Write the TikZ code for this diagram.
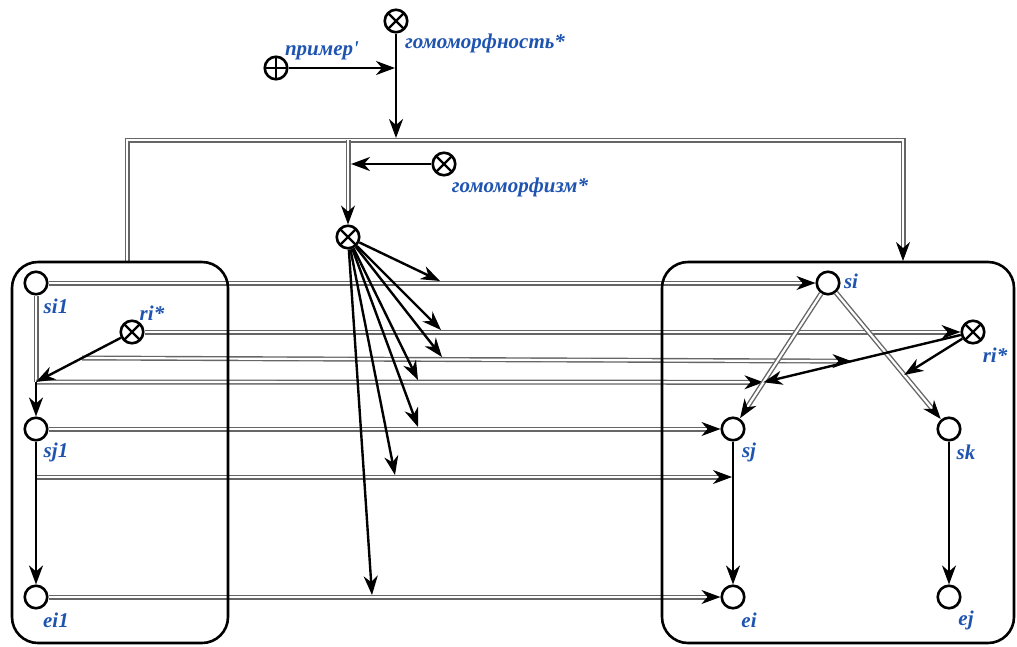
\documentclass[tikz,border=0pt]{standalone}
\usepackage{fontspec}
\usepackage{tikz}
\usetikzlibrary{arrows.meta,calc}
\newfontfamily\lblfont{Liberation Serif}
\definecolor{lblblue}{RGB}{30,84,176}

\begin{document}
\begin{tikzpicture}[x=1pt, y=-1pt,
        state/.style={circle, draw, line width=2.6pt, minimum size=22.5pt, inner sep=0pt, fill=white},
        rel/.style={state, path picture={\draw[line width=2.4pt] (path picture bounding box.north west) -- (path picture bounding box.south east) (path picture bounding box.north east) -- (path picture bounding box.south west);}},
        ins/.style={state, path picture={\draw[line width=2.4pt] (path picture bounding box.north) -- (path picture bounding box.south) (path picture bounding box.east) -- (path picture bounding box.west);}},
        lbl/.style={text=lblblue, font=\lblfont\bfseries\itshape\fontsize{21}{24}\selectfont, inner sep=0pt},
        dbl/.style={draw=black!60, double=white, double distance=2.2pt, line width=1.4pt},
        arr/.style={-{Stealth[length=19pt, width=14pt, inset=6pt]}, line width=2.4pt},
        dtip/.style={-{Stealth[length=19pt, width=14pt, inset=6pt]}, line width=1pt},
        box/.style={draw, line width=2.6pt, rounded corners=26pt}]
        \useasboundingbox (0,0) rectangle (1017,646);

        % Nodes
        \node[rel] (hn) at (396,21) {};
        \node[ins] (pr) at (276,68) {};
        \node[rel] (hz) at (444,164) {};
        \node[rel] (hm) at (348,237) {};
        \node[state] (si1) at (36,283) {};
        \node[rel] (riL) at (132,332) {};
        \node[state] (sj1) at (36,429) {};
        \node[state] (ei1) at (36,597) {};
        \node[state] (si) at (828,283) {};
        \node[rel] (riR) at (973,332) {};
        \node[state] (sj) at (733,429) {};
        \node[state] (sk) at (949,429) {};
        \node[state] (ei) at (733,597) {};
        \node[state] (ej) at (949,597) {};

        % Coordinates
        \coordinate (pj) at (395,68);
        \coordinate (bj) at (396,138);
        \coordinate (bL) at (127,262);
        \coordinate (bLt) at (127,140);
        \coordinate (bRt) at (903,140);
        \coordinate (bR) at (903,261);
        \coordinate (bM) at (348,140);
        \coordinate (hzj) at (351,164);
        \coordinate (Lq) at (36,382);
        \coordinate (La) at (36,477);
        \coordinate (Lr) at ($(riL)!0.52!(Lq)$);
        \coordinate (Rq) at ($(si)!0.68!(sj)$);
        \coordinate (Rk) at ($(si)!0.63!(sk)$);
        \coordinate (Rr) at ($(riR)!0.58!(Rq)$);
        \coordinate (Ra) at (732,477);
        \coordinate (tsj) at ($(sj)!13pt!(si)$);
        \coordinate (tsk) at ($(sk)!13pt!(si)$);
        \coordinate (f1) at (440,281);
        \coordinate (f2) at (441,330);
        \coordinate (f3) at (442,357);
        \coordinate (f4) at (418,380);
        \coordinate (f5) at (418,427);
        \coordinate (f6) at (395,475);
        \coordinate (f7) at (372,595);

        % Drawing
        \draw[dbl, shorten >=8pt] (bL) -- (bLt) -- (bRt) -- (bR);
        \draw[dtip] ($(bR)+(0,-12)$) -- (bR);
        \draw[dbl, shorten >=8pt] (bM) -- (hm.north);
        \draw[dtip] ($(hm.north)+(0,-12)$) -- (hm.north);
        \draw[dbl] (si1) -- (Lq);
        \draw[dbl, shorten >=8pt] (si1) -- (si);
        \draw[dtip] ($(si.west)+(-12,0)$) -- (si.west);
        \draw[dbl, shorten >=8pt] (riL) -- (riR);
        \draw[dtip] ($(riR.west)+(-12,0)$) -- (riR.west);
        \draw[dbl, shorten >=8pt] (Lr) -- (Rr);
        \draw[dtip] ($(Rr)!12pt!(Lr)$) -- (Rr);
        \draw[dbl, shorten >=8pt] (Lq) -- (Rq);
        \draw[dtip] ($(Rq)!12pt!(Lq)$) -- (Rq);
        \draw[dbl, shorten >=8pt] (sj1) -- (sj);
        \draw[dtip] ($(sj.west)+(-12,0)$) -- (sj.west);
        \draw[dbl, shorten >=8pt] (La) -- (Ra);
        \draw[dtip] ($(Ra)+(-12,0)$) -- (Ra);
        \draw[dbl, shorten >=8pt] (ei1) -- (ei);
        \draw[dtip] ($(ei.west)+(-12,0)$) -- (ei.west);
        \draw[dbl, shorten >=8pt] (si) -- (tsj);
        \draw[dtip] ($(tsj)!12pt!(si)$) -- (tsj);
        \draw[dbl, shorten >=8pt] (si) -- (tsk);
        \draw[dtip] ($(tsk)!12pt!(si)$) -- (tsk);

        \draw[arr] (hn) -- (bj);
        \draw[arr] (pr) -- (pj);
        \draw[arr] (hz) -- (hzj);
        \draw[arr] (riL) -- (Lq);
        \draw[arr] (Lq) -- (sj1);
        \draw[arr] (sj1) -- (ei1);
        \draw[arr] (riR) -- (Rq);
        \draw[arr] (riR) -- (Rk);
        \draw[arr] (sj) -- (ei);
        \draw[arr] (sk) -- (ej);
        \foreach \i in {1,...,7}
            \draw[arr] (hm) -- (f\i);

        \draw[box] (12,262) rectangle (228,643);
        \draw[box] (662,262) rectangle (1014,643);

        \node[lbl] (lhn) at (485,43) {гомоморфность*};
        \node[lbl] (lpr) at (322,51) {пример'};
        \node[lbl] (lhz) at (520,187) {гомоморфизм*};
        \node[lbl] (lsi1) at (56,306) {si1};
        \node[lbl] (lriL) at (152,313) {ri*};
        \node[lbl] (lsj1) at (56,452) {sj1};
        \node[lbl] (lei1) at (56,620) {ei1};
        \node[lbl] (lsi) at (851,281) {si};
        \node[lbl] (lriR) at (995,355) {ri*};
        \node[lbl] (lsj) at (749,452) {sj};
        \node[lbl] (lsk) at (966,452) {sk};
        \node[lbl] (lei) at (749,620) {ei};
        \node[lbl] (lej) at (966,620) {ej};
\end{tikzpicture}
\end{document}
